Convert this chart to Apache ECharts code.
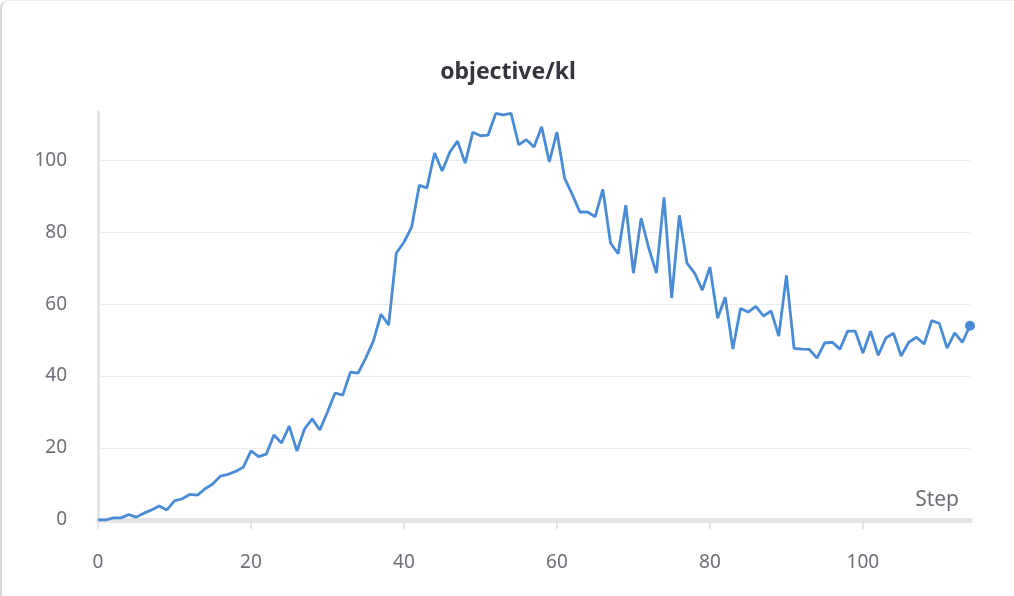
<!DOCTYPE html>
<html>
<head>
<meta charset="utf-8">
<script src="https://cdn.jsdelivr.net/npm/echarts@6/dist/echarts.min.js"></script>
<style>
  html, body { margin: 0; padding: 0; background: #fff; overflow: hidden; }
  #card { width: 1030px; height: 610px; box-sizing: border-box; border-left: 2px solid #d8d8d8; border-top: 1px solid #ededed; border-top-left-radius: 8px; overflow: hidden; }
  #chart { width: 1012px; height: 595px; }
</style>
</head>
<body>
<div id="card"><div id="chart"></div></div>
<script>
const titleText = "objective/kl";
const xName = "Step";
const xTicks = [0, 20, 40, 60, 80, 100];
const yTicks = [0, 20, 40, 60, 80, 100];
const steps = Array.from({length: 115}, (_, i) => i);
const klValues = [
  0, 0, 0.6, 0.6, 1.5, 0.8, 1.9, 2.8, 3.9, 2.8,
  5.3, 5.9, 7.1, 6.9, 8.7, 10, 12.2, 12.7, 13.5, 14.7,
  19.2, 17.6, 18.3, 23.6, 21.4, 26.1, 19.2, 25.3, 28.1, 25,
  30, 35.3, 34.7, 41.1, 40.8, 45, 49.7, 57.2, 54.2, 74.2,
  77.2, 81.4, 93, 92.3, 102, 97, 102.3, 105.3, 99.2, 107.8,
  106.8, 107, 113, 112.6, 113, 104.3, 105.7, 103.7, 109.3, 99.5,
  107.8, 95, 90.5, 85.6, 85.6, 84.3, 91.9, 77, 74, 87.5,
  68.6, 83.9, 75.6, 68.6, 89.7, 61.7, 84.7, 71.4, 68.6, 63.9,
  70.3, 56.1, 61.9, 47.5, 58.8, 57.8, 59.4, 56.7, 58.1, 51.1,
  68, 47.7, 47.5, 47.4, 45, 49.2, 49.4, 47.5, 52.5, 52.5,
  46.4, 52.5, 45.8, 50.6, 51.9, 45.6, 49.4, 50.8, 48.9, 55.4,
  54.6, 47.8, 52, 49.4, 54
];

const chart = echarts.init(document.getElementById('chart'), null, {renderer: 'canvas'});
const lineColor = '#4a8bd6';
const labelColor = '#6e6e78';
const fontFam = '"Noto Sans", "Open Sans", sans-serif';

const seriesData = steps.map((s, i) => {
  if (i === steps.length - 1) {
    return { value: [s, klValues[i]], symbol: 'circle', symbolSize: 10 };
  }
  return [s, klValues[i]];
});

chart.setOption({
  animation: false,
  title: {
    text: titleText,
    left: 'center',
    top: 55,
    textStyle: { fontFamily: fontFam, fontSize: 23, fontWeight: 'bold', color: '#35353d' }
  },
  grid: { left: 96, right: 44, top: 111, bottom: 76, containLabel: false },
  xAxis: {
    type: 'value',
    min: 0,
    max: 114,
    interval: 20,
    axisLine: { show: true, lineStyle: { color: '#e4e4e6', width: 5 } },
    axisTick: { show: true, inside: false, length: 9, customValues: xTicks, lineStyle: { color: '#e4e4e6', width: 2 } },
    axisLabel: { customValues: xTicks, margin: 33, color: labelColor, fontSize: 19, fontFamily: fontFam },
    splitLine: { show: false }
  },
  yAxis: {
    type: 'value',
    min: 0,
    max: 113.4,
    interval: 20,
    axisLine: { show: true, lineStyle: { color: '#e4e4e6', width: 3 } },
    axisTick: { show: false },
    axisLabel: { customValues: yTicks, margin: 31, color: labelColor, fontSize: 19, fontFamily: fontFam },
    splitLine: { show: true, showMinLine: false, showMaxLine: false, lineStyle: { color: '#ececee', width: 1 } }
  },
  graphic: [{
    type: 'text',
    right: 55,
    top: 489,
    style: { text: xName, fill: labelColor, font: '21px ' + fontFam }
  }],
  series: [{
    type: 'line',
    data: seriesData,
    symbol: 'none',
    showSymbol: true,
    lineStyle: { color: lineColor, width: 2.8 },
    itemStyle: { color: lineColor },
    z: 5
  }]
});
</script>
</body>
</html>
